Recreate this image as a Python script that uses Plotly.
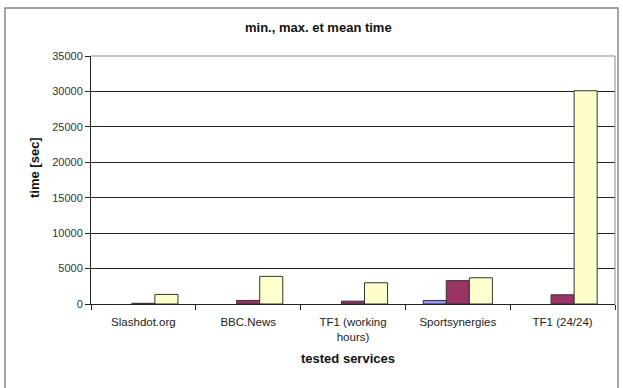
import plotly.graph_objects as go

categories = ["Slashdot.org", "BBC.News", "TF1 (working<br>hours)", "Sportsynergies", "TF1 (24/24)"]
min_time = [0, 0, 0, 500, 0]
max_time = [100, 500, 400, 3300, 1300]
mean_time = [1350, 3900, 3000, 3700, 30100]
y_ticks = [0, 5000, 10000, 15000, 20000, 25000, 30000, 35000]

W, H = 623, 388
L, R, T, B = 91, 8, 56, 84
pw, ph = W - L - R, H - T - B

def px(x):
    return (x - L) / pw

def py(y):
    return (H - B - y) / ph

fig = go.Figure()
series = [("min", min_time, "#9999FF"), ("max", max_time, "#993366"), ("mean", mean_time, "#FFFFCC")]
for name, vals, col in series:
    widths = [1 if v > 0 else 0 for v in vals]
    fig.add_trace(go.Bar(x=categories, y=vals, name=name,
                         marker=dict(color=col, line=dict(color="#333333", width=widths))))

font_family = "Liberation Sans, Arial, sans-serif"
fig.update_layout(
    width=W, height=H,
    margin=dict(l=L, r=R, t=T, b=B),
    paper_bgcolor="white", plot_bgcolor="white",
    showlegend=False,
    barmode="group", bargap=0.34, bargroupgap=0,
    font=dict(family=font_family, size=11, color="#222222"),
    xaxis=dict(
        showgrid=False, ticks="outside", tickson="boundaries", ticklen=5,
        tickcolor="#222222", showline=True, linecolor="#222222", linewidth=1,
        tickfont=dict(size=11.5, color="#222222"), ticklabelstandoff=7,
    ),
    yaxis=dict(
        range=[0, 35000], tickvals=y_ticks, ticktext=[str(v) for v in y_ticks],
        showgrid=True, gridcolor="#222222", gridwidth=1,
        ticks="outside", ticklen=5, tickcolor="#222222",
        showline=True, linecolor="#222222", linewidth=1,
        zeroline=False, tickfont=dict(size=11, color="#333333"),
    ),
    shapes=[
        dict(type="rect", xref="paper", yref="paper", x0=px(5), x1=px(618), y0=py(390), y1=py(8),
             line=dict(color="#888888", width=1.5), fillcolor="rgba(0,0,0,0)", layer="below"),
        dict(type="line", xref="paper", yref="paper", x0=0, x1=1, y0=1, y1=1, line=dict(color="#888888", width=1)),
        dict(type="line", xref="paper", yref="paper", x0=1, x1=1, y0=0, y1=1, line=dict(color="#888888", width=1)),
    ],
    annotations=[
        dict(text="<b>min., max. et mean time</b>", xref="paper", yref="paper", x=px(318), y=py(27),
             showarrow=False, font=dict(size=13, color="#111111"), xanchor="center", yanchor="middle"),
        dict(text="<b>time [sec]</b>", xref="paper", yref="paper", x=px(34), y=py(168), textangle=-90,
             showarrow=False, font=dict(size=13, color="#111111"), xanchor="center", yanchor="middle"),
        dict(text="<b>tested services</b>", xref="paper", yref="paper", x=px(348), y=py(358),
             showarrow=False, font=dict(size=13, color="#111111"), xanchor="center", yanchor="middle"),
    ],
)

fig.write_html("out.html")
